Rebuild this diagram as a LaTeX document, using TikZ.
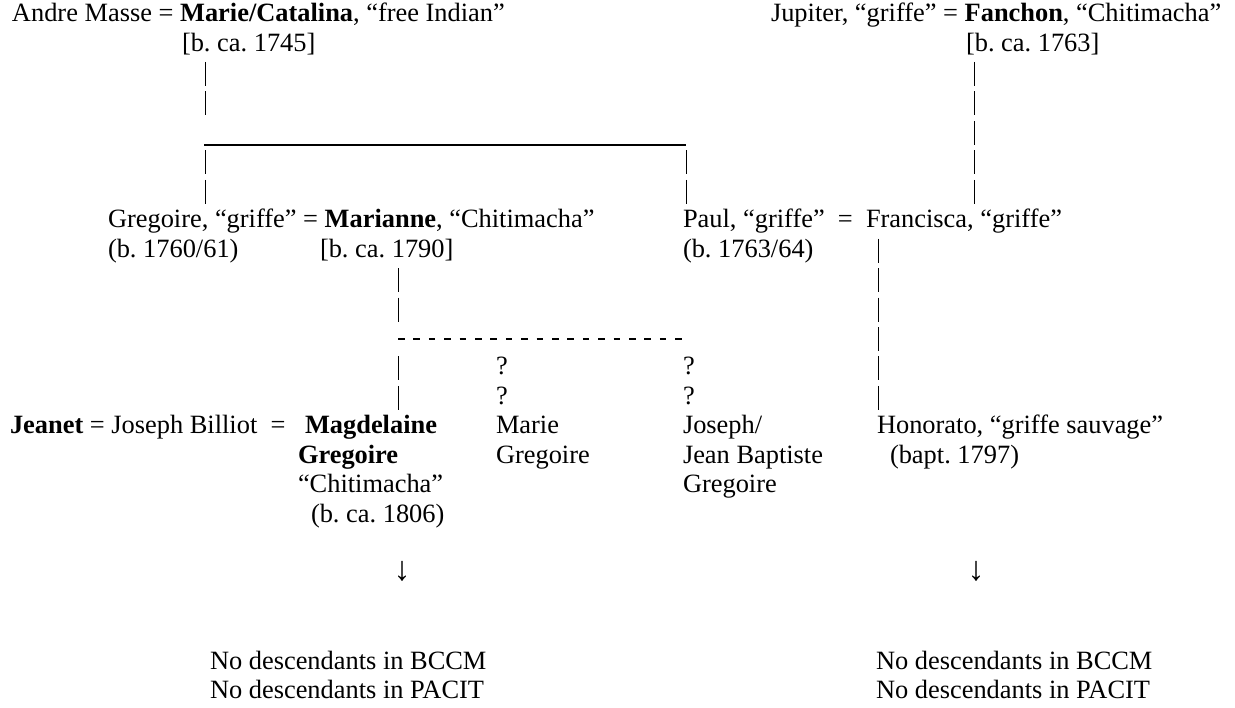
\documentclass[tikz,border=0pt]{standalone}
\usepackage{fontspec}
\setmainfont{Liberation Serif}[Ligatures={TeX,NoCommon}]
\frenchspacing
\begin{document}
\begin{tikzpicture}[x=1pt,y=1pt,
  declare function={rb(\k)=-(21.6+29.45*(\k-1));},
  txt/.style={inner sep=0pt,outer sep=0pt,anchor=base west,font=\fontsize{26.4}{29.45}\selectfont\frenchspacing},
  arrowglyph/.style={inner sep=0pt,outer sep=0pt,anchor=base,font=\fontsize{34}{36}\selectfont},
  barline/.style={line width=1pt,dash pattern=on 24pt off 5.45pt},
  rulex/.style={line width=1.2pt},
  dashline/.style={line width=1.2pt,dash pattern=on 6.5pt off 8.9pt}]
\useasboundingbox (0,0) rectangle (1235,-708);

% generation 1
\node[txt] (andre) at (12,{rb(1)}) {Andre Masse = \textbf{Marie/Catalina}, “free Indian”};
\node[txt] (b1745) at (182,{rb(2)}) {[b. ca. 1745]};
\node[txt] (jupiter) at (771,{rb(1)}) {Jupiter, “griffe” = \textbf{Fanchon}, “Chitimacha”};
\node[txt] (b1763) at (966,{rb(2)}) {[b. ca. 1763]};

% generation 2
\node[txt] (gregoire) at (108,{rb(8)}) {Gregoire, “griffe” = \textbf{Marianne}, “Chitimacha”};
\node[txt] (b1760) at (108,{rb(9)}) {(b. 1760/61)};
\node[txt] (b1790) at (320,{rb(9)}) {[b. ca. 1790]};
\node[txt] (paul) at (683,{rb(8)}) {Paul, “griffe”~~=~~Francisca, “griffe”};
\node[txt] (b1763p) at (683,{rb(9)}) {(b. 1763/64)};

% generation 3
\node[txt] (q1a) at (496,{rb(13)}) {?};
\node[txt] (q1b) at (496,{rb(14)}) {?};
\node[txt] (q2a) at (683,{rb(13)}) {?};
\node[txt] (q2b) at (683,{rb(14)}) {?};
\node[txt] (jeanet) at (10,{rb(15)}) {\textbf{Jeanet} = Joseph Billiot~~=};
\node[txt] (magd1) at (305,{rb(15)}) {\textbf{Magdelaine}};
\node[txt] (magd2) at (298,{rb(16)}) {\textbf{Gregoire}};
\node[txt] (magd3) at (298,{rb(17)}) {“Chitimacha”};
\node[txt] (magd4) at (311,{rb(18)}) {(b. ca. 1806)};
\node[txt] (marie1) at (496,{rb(15)}) {Marie};
\node[txt] (marie2) at (496,{rb(16)}) {Gregoire};
\node[txt] (jos1) at (683,{rb(15)}) {Joseph/};
\node[txt] (jos2) at (683,{rb(16)}) {Jean Baptiste};
\node[txt] (jos3) at (683,{rb(17)}) {Gregoire};
\node[txt] (hon1) at (877,{rb(15)}) {Honorato, “griffe sauvage”};
\node[txt] (hon2) at (890,{rb(16)}) {(bapt. 1797)};

% descendants
\node[arrowglyph] (arrL) at (402,{rb(20)+1}) {↓};
\node[arrowglyph] (arrR) at (976,{rb(20)+1}) {↓};
\node[txt] (ndL1) at (210,{rb(23)}) {No descendants in BCCM};
\node[txt] (ndL2) at (210,{rb(24)}) {No descendants in PACIT};
\node[txt] (ndR1) at (876,{rb(23)}) {No descendants in BCCM};
\node[txt] (ndR2) at (876,{rb(24)}) {No descendants in PACIT};

% connector coordinates
\coordinate (catTop) at (205,{rb(3)+18.5});
\coordinate (catBot) at (205,{rb(4)-5.5});
\coordinate (sibL) at (204,-145);
\coordinate (sibR) at (686,-145);
\coordinate (gTop) at (205,{rb(6)+18.5});
\coordinate (gBot) at (205,{rb(7)-5.5});
\coordinate (pTop) at (686,{rb(6)+18.5});
\coordinate (pBot) at (686,{rb(7)-5.5});
\coordinate (fTop) at (974,{rb(3)+18.5});
\coordinate (fBot) at (974,{rb(7)-5.5});
\coordinate (mTop) at (398,{rb(10)+18.5});
\coordinate (mBot) at (398,{rb(11)-5.5});
\coordinate (kidL) at (398,-339);
\coordinate (kidR) at (682,-339);
\coordinate (kTop) at (398,{rb(13)+18.5});
\coordinate (kBot) at (398,{rb(14)-5.5});
\coordinate (frTop) at (878,{rb(9)+18.5});
\coordinate (frBot) at (878,{rb(14)-5.5});

\draw[barline] (catTop) -- (catBot);
\draw[rulex] (sibL) -- (sibR);
\draw[barline] (gTop) -- (gBot);
\draw[barline] (pTop) -- (pBot);
\draw[barline] (fTop) -- (fBot);
\draw[barline] (mTop) -- (mBot);
\draw[dashline] (kidL) -- (kidR);
\draw[barline] (kTop) -- (kBot);
\draw[barline] (frTop) -- (frBot);
\end{tikzpicture}
\end{document}
